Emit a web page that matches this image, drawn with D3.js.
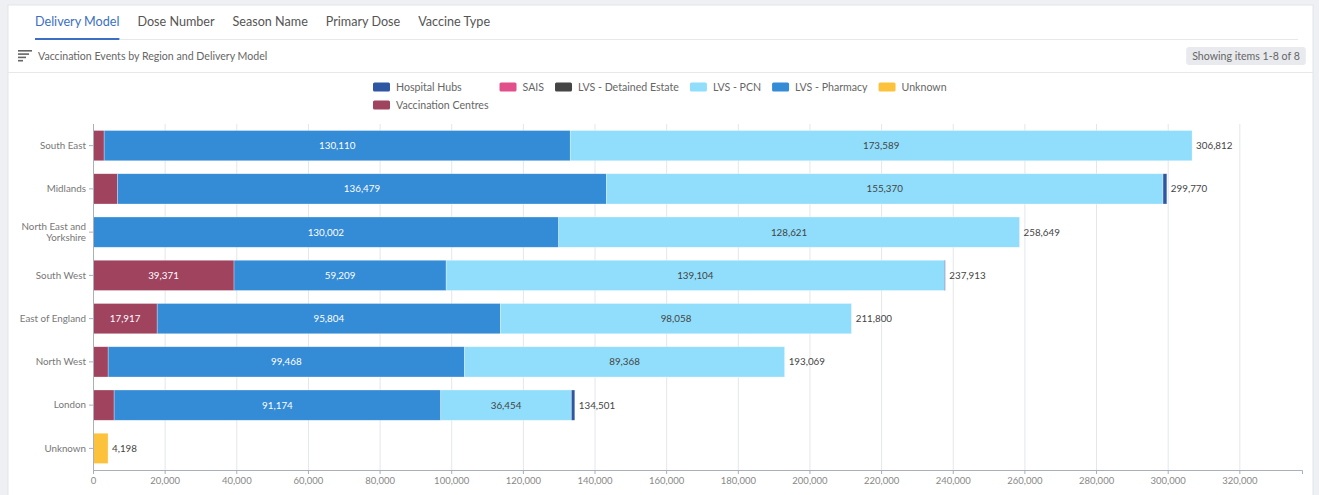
<!DOCTYPE html>
<html>
<head>
<meta charset="utf-8">
<script src="https://cdn.jsdelivr.net/npm/d3@7"></script>
<style>
  html, body { margin: 0; padding: 0; background: #eef0f3; }
  svg { display: block; font-family: Lato, "Open Sans", sans-serif; }
</style>
</head>
<body>
<svg id="chart" width="1319" height="495"></svg>
<script>
const tabs = ['Delivery Model', 'Dose Number', 'Season Name', 'Primary Dose', 'Vaccine Type'];
const title = 'Vaccination Events by Region and Delivery Model';
const badge = 'Showing items 1-8 of 8';

const regions = ['South East', 'Midlands', 'North East and Yorkshire', 'South West',
  'East of England', 'North West', 'London', 'Unknown'];

// stack order, left to right
const series = ['Vaccination Centres', 'LVS - Pharmacy', 'LVS - PCN', 'Hospital Hubs', 'SAIS', 'LVS - Detained Estate', 'Unknown'];
const legendOrder = ['Hospital Hubs', 'SAIS', 'LVS - Detained Estate', 'LVS - PCN', 'LVS - Pharmacy', 'Unknown', 'Vaccination Centres'];
const colors = ['#a0435f', '#348bd6', '#90defb', '#2f56a3', '#e2508b', '#454545', '#fcc23c'];

const vaccinationCentres = [3113, 6850, 0, 39371, 17917, 4233, 5900, 0];
const pharmacy = [130110, 136479, 130002, 59209, 95804, 99468, 91174, 0];
const pcn = [173589, 155370, 128621, 139104, 98058, 89368, 36454, 0];
const hospitalHubs = [0, 1071, 26, 229, 21, 0, 973, 0];
const sais = [0, 0, 0, 0, 0, 0, 0, 0];
const detained = [0, 0, 0, 0, 0, 0, 0, 0];
const unknown = [0, 0, 0, 0, 0, 0, 0, 4198];
const totals = [306812, 299770, 258649, 237913, 211800, 193069, 134501, 4198];
const xTicks = d3.range(0, 320001, 20000);

const values = [vaccinationCentres, pharmacy, pcn, hospitalHubs, sais, detained, unknown];
const rows = regions.map((r, i) => {
  const o = { region: r };
  series.forEach((s, j) => { o[s] = values[j][i]; });
  return o;
});
const stacked = d3.stack().keys(series)(rows);
const color = d3.scaleOrdinal().domain(series).range(colors);

const svg = d3.select('#chart');

// card
svg.append('rect').attr('x', 8).attr('y', 5).attr('width', 1305).attr('height', 500)
  .attr('fill', '#fff').attr('stroke', '#e2e5ea');

// tabs
const tabG = svg.append('g').attr('font-size', 12.6);
let tx = 35;
tabs.forEach((t, i) => {
  const el = tabG.append('text').attr('x', tx).attr('y', 26).text(t)
    .attr('fill', i === 0 ? '#3b6fc3' : '#555');
  const w = el.node().getComputedTextLength();
  if (i === 0) {
    tabG.append('rect').attr('x', tx).attr('y', 38).attr('width', w).attr('height', 2).attr('fill', '#3b6fc3');
  }
  tx += w + 18;
});
svg.append('line').attr('x1', 120).attr('x2', 1298).attr('y1', 39.5).attr('y2', 39.5).attr('stroke', '#e6e8ec');

// sort icon
[14, 11, 8, 5].forEach((w, i) => {
  svg.append('rect').attr('x', 18).attr('y', 50 + i * 3.3).attr('width', w).attr('height', 1.6).attr('fill', '#666');
});
svg.append('text').attr('x', 38).attr('y', 60).attr('font-size', 10.6).attr('fill', '#666').text(title);

// badge
const badgeG = svg.append('g');
const bRect = badgeG.append('rect').attr('y', 47).attr('height', 18).attr('rx', 3).attr('fill', '#e8eaee');
const bt = badgeG.append('text').attr('x', 1246).attr('y', 60).attr('text-anchor', 'middle')
  .attr('font-size', 10.6).attr('fill', '#666').text(badge);
const bw = bt.node().getComputedTextLength();
bRect.attr('x', 1246 - bw / 2 - 6).attr('width', bw + 12);
svg.append('line').attr('x1', 8).attr('x2', 1313).attr('y1', 72.5).attr('y2', 72.5).attr('stroke', '#e6e8ec');

// legend
const legend = svg.append('g').attr('font-size', 10.6).attr('fill', '#666');
const measure = legend.append('text').attr('visibility', 'hidden');
const textW = t => { measure.text(t); return measure.node().getComputedTextLength(); };
const col1 = Math.max(textW('Hospital Hubs'), textW('Vaccination Centres')) + 34;
let lx = 373;
legendOrder.forEach((name, i) => {
  const row2 = name === 'Vaccination Centres';
  const lxi = row2 ? 373 : lx;
  const ly = row2 ? 105 : 87;
  legend.append('rect').attr('x', lxi).attr('y', ly - 4.5).attr('width', 17).attr('height', 9).attr('rx', 1.5)
    .attr('fill', color(name));
  legend.append('text').attr('x', lxi + 23).attr('y', ly + 4).text(name);
  if (!row2) lx += i === 0 ? col1 : textW(name) + 34;
});

// plot
const x = d3.scaleLinear().domain([0, d3.max(totals) * 1.1]).range([93, 1302]);
const y = d3.scaleBand().domain(regions).range([124, 470]).paddingInner(0.3).paddingOuter(0.15);

svg.append('g').selectAll('line').data(xTicks.slice(1)).join('line')
  .attr('x1', d => x(d) + 0.5).attr('x2', d => x(d) + 0.5).attr('y1', 124).attr('y2', 470)
  .attr('stroke', '#e4e6eb');

svg.append('g').selectAll('g').data(stacked).join('g')
  .attr('fill', d => color(d.key))
  .selectAll('rect').data(d => d).join('rect')
    .attr('x', d => x(d[0])).attr('width', d => Math.max(0, x(d[1]) - x(d[0])))
    .attr('y', d => y(d.data.region)).attr('height', y.bandwidth())
    .attr('stroke', 'rgba(255,255,255,0.5)').attr('stroke-width', 0.6);

// segment labels
stacked.forEach(layer => {
  svg.append('g').attr('font-size', 9.8).attr('text-anchor', 'middle')
    .attr('fill', layer.key === 'LVS - PCN' ? '#444' : '#fff')
    .selectAll('text').data(layer.filter(d => x(d[1]) - x(d[0]) > 40)).join('text')
      .attr('x', d => (x(d[0]) + x(d[1])) / 2).attr('y', d => y(d.data.region) + y.bandwidth() / 2 + 3.5)
      .text(d => d3.format(',')(d[1] - d[0]));
});

// totals
svg.append('g').attr('font-size', 9.8).attr('fill', '#444')
  .selectAll('text').data(regions).join('text')
    .attr('x', (d, i) => x(totals[i]) + 4).attr('y', d => y(d) + y.bandwidth() / 2 + 3.5)
    .text((d, i) => d3.format(',')(totals[i]));

// axes
const xAxis = svg.append('g').attr('transform', 'translate(0,470)')
  .call(d3.axisBottom(x).tickValues(xTicks).tickFormat(d3.format(',')).tickSize(4));
xAxis.select('.domain').attr('stroke', '#a9b0bc');
xAxis.selectAll('.tick line').attr('stroke', '#a9b0bc');
xAxis.selectAll('text').attr('fill', '#888').attr('font-size', 9.5).attr('font-family', 'Lato, sans-serif');

const yAxis = svg.append('g').attr('transform', 'translate(93,0)')
  .call(d3.axisLeft(y).tickSize(4).tickSizeOuter(0));
yAxis.select('.domain').attr('stroke', '#a9b0bc').attr('d', 'M0.5,124V470');
yAxis.selectAll('.tick line').attr('stroke', '#a9b0bc');
yAxis.selectAll('text').attr('fill', '#777').attr('font-size', 9.8).attr('font-family', 'Lato, sans-serif')
  .each(function (d) {
    if (d === 'North East and Yorkshire') {
      const t = d3.select(this).text(null);
      t.append('tspan').attr('x', -7).attr('dy', '-0.25em').text('North East and');
      t.append('tspan').attr('x', -7).attr('dy', '1.15em').text('Yorkshire');
    }
  });
</script>
</body>
</html>
